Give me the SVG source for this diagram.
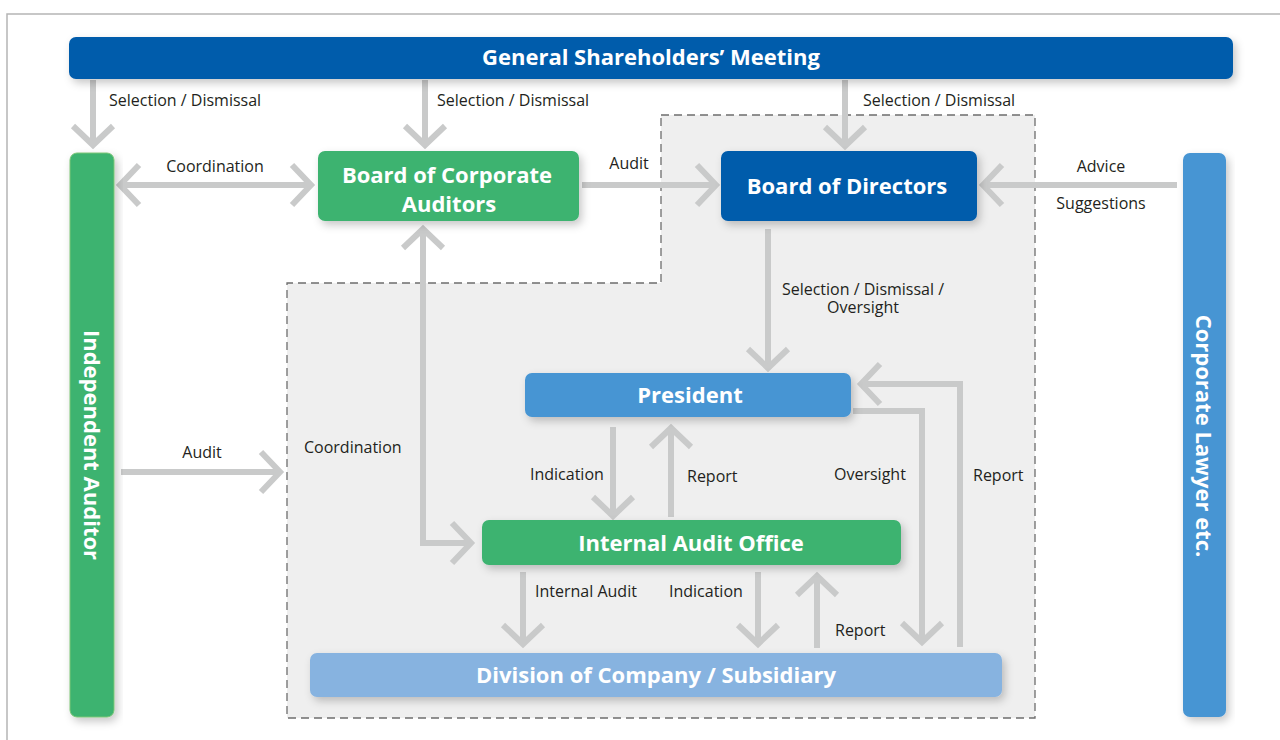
<svg xmlns="http://www.w3.org/2000/svg" width="1280" height="740" viewBox="0 0 1280 740">
<style>
.lbl{font-family:"Open Sans","Liberation Sans",sans-serif;font-size:16px;fill:#231f20}
.nt{font-family:"Open Sans","Liberation Sans",sans-serif;font-weight:bold;font-size:22px;fill:#fff;text-anchor:middle}
.ar{fill:none;stroke:#c9caca;stroke-width:6}
.dblue{fill:#005bab}
.green{fill:#3db370}
.mblue{fill:#4795d3}
.lblue{fill:#87b3e0}
</style>
<defs>
<marker id="ah" viewBox="-26 -26 32 52" markerWidth="32" markerHeight="52" refX="0" refY="0" orient="auto-start-reverse" markerUnits="userSpaceOnUse">
<path d="M-19,-20 L0,0 L-19,20" fill="none" stroke="#c9caca" stroke-width="6"/>
</marker>
<filter id="sh" x="-20%" y="-20%" width="140%" height="160%">
<feDropShadow dx="3" dy="4" stdDeviation="4" flood-color="#000" flood-opacity="0.22"/>
</filter>
</defs>
<rect x="0" y="0" width="1280" height="740" fill="#fff"/>
<rect x="7" y="14" width="1290" height="740" fill="none" stroke="#b5b5b5" stroke-width="1.5"/>
<path d="M661,115 H1035 V718 H287 V283 H661 Z" fill="#efefef" stroke="#6d6d6d" stroke-width="1.3" stroke-dasharray="8,5"/>

<g id="connectors">
<path class="ar" d="M93,80 V145" marker-end="url(#ah)"/>
<path class="ar" d="M425,80 V145" marker-end="url(#ah)"/>
<path class="ar" d="M845,80 V146" marker-end="url(#ah)"/>
<path class="ar" d="M120,185 H311" marker-start="url(#ah)" marker-end="url(#ah)"/>
<path class="ar" d="M582,185 H716" marker-end="url(#ah)"/>
<path class="ar" d="M1177,185 H983" marker-end="url(#ah)"/>
<path class="ar" d="M768,229 V368" marker-end="url(#ah)"/>
<path class="ar" d="M121,472 H280" marker-end="url(#ah)"/>
<path class="ar" d="M423,229 V543 H471" marker-start="url(#ah)" marker-end="url(#ah)"/>
<path class="ar" d="M613,427 V516" marker-end="url(#ah)"/>
<path class="ar" d="M671,517 V428" marker-end="url(#ah)"/>
<path class="ar" d="M853,411 H922 V642" marker-end="url(#ah)"/>
<path class="ar" d="M960,647 V384 H861" marker-end="url(#ah)"/>
<path class="ar" d="M523,572 V644" marker-end="url(#ah)"/>
<path class="ar" d="M758,572 V644" marker-end="url(#ah)"/>
<path class="ar" d="M817,648 V576" marker-end="url(#ah)"/>
<text class="lbl" x="109" y="106">Selection / Dismissal</text>
<text class="lbl" x="437" y="106">Selection / Dismissal</text>
<text class="lbl" x="863" y="106">Selection / Dismissal</text>
<text class="lbl" x="215" y="172" text-anchor="middle">Coordination</text>
<text class="lbl" x="629" y="169" text-anchor="middle">Audit</text>
<text class="lbl" x="1101" y="172" text-anchor="middle">Advice</text>
<text class="lbl" x="1101" y="209" text-anchor="middle">Suggestions</text>
<text class="lbl" x="863" y="295" text-anchor="middle">Selection / Dismissal /</text>
<text class="lbl" x="863" y="313" text-anchor="middle">Oversight</text>
<text class="lbl" x="202" y="458" text-anchor="middle">Audit</text>
<text class="lbl" x="304" y="453">Coordination</text>
<text class="lbl" x="530" y="480">Indication</text>
<text class="lbl" x="687" y="482">Report</text>
<text class="lbl" x="834" y="480">Oversight</text>
<text class="lbl" x="973" y="481">Report</text>
<text class="lbl" x="535" y="597">Internal Audit</text>
<text class="lbl" x="669" y="597">Indication</text>
<text class="lbl" x="835" y="636">Report</text>
</g>

<g id="gsm">
<rect class="dblue" x="69" y="37" width="1164" height="42" rx="7" filter="url(#sh)"/>
<text class="nt" x="651" y="65">General Shareholders’ Meeting</text>
</g>
<g id="independent-auditor">
<rect class="green" x="70" y="153" width="44" height="564" rx="7" stroke="#7cc576" stroke-width="1" filter="url(#sh)"/>
<text class="nt" transform="translate(92,445) rotate(90)" y="8">Independent Auditor</text>
</g>
<g id="corporate-lawyer">
<rect class="mblue" x="1183" y="153" width="43" height="564" rx="7" filter="url(#sh)"/>
<text class="nt" transform="translate(1204,436) rotate(90)" y="8">Corporate Lawyer etc.</text>
</g>
<g id="board-auditors">
<rect class="green" x="318" y="151" width="261" height="70" rx="7" filter="url(#sh)"/>
<text class="nt" x="447" y="183">Board of Corporate</text>
<text class="nt" x="449" y="212">Auditors</text>
</g>
<g id="board-directors">
<rect class="dblue" x="721" y="151" width="256" height="70" rx="7" filter="url(#sh)"/>
<text class="nt" x="847" y="194">Board of Directors</text>
</g>
<g id="president">
<rect class="mblue" x="525" y="373" width="326" height="44" rx="7" filter="url(#sh)"/>
<text class="nt" x="690" y="403">President</text>
</g>
<g id="internal-audit-office">
<rect class="green" x="482" y="520" width="419" height="45" rx="7" filter="url(#sh)"/>
<text class="nt" x="691" y="551">Internal Audit Office</text>
</g>
<g id="division">
<rect class="lblue" x="310" y="653" width="692" height="44" rx="7" filter="url(#sh)"/>
<text class="nt" x="656" y="683">Division of Company / Subsidiary</text>
</g>
</svg>
